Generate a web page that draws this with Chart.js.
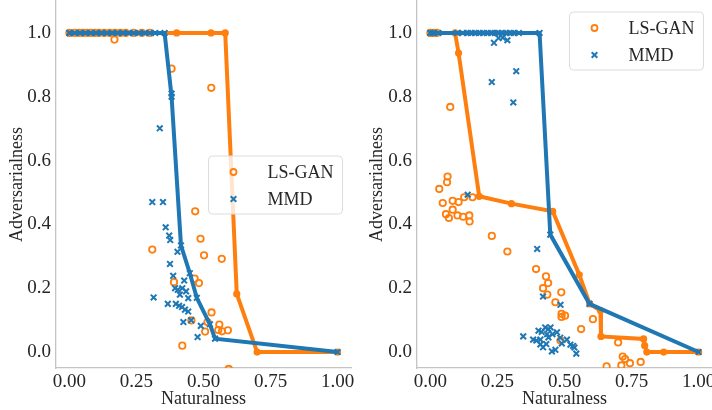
<!DOCTYPE html>
<html>
<head>
<meta charset="utf-8">
<script src="https://cdn.jsdelivr.net/npm/chart.js@4.4.1/dist/chart.umd.min.js"></script>
<style>
  html, body { margin: 0; padding: 0; background: #fff; }
  .wrap { display: flex; width: 712px; height: 410px; }
  canvas { display: block; }
</style>
</head>
<body>
<div class="wrap">
  <canvas id="left" width="360" height="410"></canvas>
  <canvas id="right" width="352" height="410"></canvas>
</div>
<script>
// series names and tick labels
const seriesNames = ['LS-GAN', 'MMD'];
const xTicks = [0, 0.25, 0.5, 0.75, 1.0];
const yTicks = [0, 0.2, 0.4, 0.6, 0.8, 1.0];

// ---- left panel ----
const leftGanX = [0, 0.02, 0.035, 0.05, 0.065, 0.08, 0.095, 0.11, 0.13, 0.15, 0.17, 0.19, 0.21, 0.24, 0.27, 0.3,
  0.168, 0.381, 0.529, 0.469, 0.489, 0.309, 0.502, 0.568, 0.390, 0.467, 0.483, 0.530, 0.455, 0.515, 0.506,
  0.559, 0.555, 0.569, 0.591, 0.421, 0.594];
const leftGanY = [1, 1, 1, 1, 1, 1, 1, 1, 1, 1, 1, 1, 1, 1, 1, 1,
  0.979, 0.888, 0.828, 0.441, 0.355, 0.321, 0.303, 0.292, 0.219, 0.230, 0.216, 0.124, 0.099, 0.094, 0.064,
  0.086, 0.069, 0.065, 0.068, 0.020, -0.053];
const leftGanLineX = [0, 0.40, 0.528, 0.581, 0.624, 0.70, 1.0];
const leftGanLineY = [1, 1, 1, 1, 0.182, 0, 0];

const leftMmdX = [0, 0.02, 0.04, 0.06, 0.08, 0.1, 0.12, 0.14, 0.16, 0.18, 0.2, 0.22, 0.24, 0.26, 0.28, 0.3, 0.32,
  0.381, 0.337, 0.309, 0.349, 0.359, 0.372, 0.376, 0.403, 0.375, 0.387, 0.314, 0.367, 0.397, 0.394, 0.404,
  0.421, 0.428, 0.435, 0.412, 0.409, 0.420, 0.431, 0.443, 0.443, 0.425, 0.478, 0.490, 0.454];
const leftMmdY = [1, 1, 1, 1, 1, 1, 1, 1, 1, 1, 1, 1, 1, 1, 1, 1, 1,
  0.810, 0.701, 0.470, 0.470, 0.391, 0.365, 0.351, 0.314, 0.276, 0.239, 0.171, 0.151, 0.151, 0.200, 0.195,
  0.200, 0.224, 0.190, 0.180, 0.145, 0.141, 0.133, 0.127, 0.169, 0.094, 0.047, 0.082, 0.100];
const leftMmdLineX = [0, 0.355, 0.381, 0.416, 0.449, 0.475, 0.524, 0.543, 1.0];
const leftMmdLineY = [1, 1, 0.80, 0.334, 0.247, 0.170, 0.087, 0.042, 0];

// ---- right panel ----
const rightGanX = [0, 0.012, 0.024,
  0.033, 0.046, 0.062, 0.064, 0.058, 0.069, 0.074, 0.083, 0.083, 0.101, 0.105, 0.122, 0.126, 0.145, 0.146, 0.157,
  0.229, 0.287, 0.394, 0.431, 0.439, 0.420, 0.436, 0.488, 0.466, 0.489, 0.489, 0.502, 0.562, 0.606, 0.485,
  0.700, 0.717, 0.726, 0.712, 0.744, 0.784, 0.657];
const rightGanY = [1, 1, 1,
  0.511, 0.467, 0.532, 0.550, 0.432, 0.420, 0.768, 0.474, 0.446, 0.428, 0.470, 0.424, 0.485, 0.428, 0.409, 0.485,
  0.364, 0.315, 0.260, 0.237, 0.216, 0.200, 0.180, 0.187, 0.156, 0.120, 0.110, 0.114, 0.072, 0.103, 0.036,
  0.030, -0.014, -0.022, -0.042, -0.035, -0.031, -0.045];
const rightGanLineX = [0, 0.092, 0.105, 0.182, 0.302, 0.456, 0.555, 0.594, 0.634, 0.636, 0.795, 0.799, 0.807, 0.870, 1.0];
const rightGanLineY = [1, 1, 0.937, 0.488, 0.465, 0.441, 0.242, 0.151, 0.130, 0.049, 0.041, 0.020, 0, 0, 0];

const rightMmdX = [0, 0.01, 0.03, 0.1, 0.12, 0.14, 0.15, 0.17, 0.18, 0.2, 0.21, 0.23, 0.24, 0.25, 0.27, 0.28, 0.3, 0.31, 0.33,
  0.237, 0.254, 0.287, 0.270, 0.229, 0.320, 0.309, 0.139, 0.398, 0.420, 0.485, 0.346,
  0.383, 0.395, 0.410, 0.403, 0.415, 0.410, 0.420, 0.435, 0.428, 0.440, 0.448, 0.455, 0.453, 0.466,
  0.472, 0.484, 0.490, 0.509, 0.522, 0.532, 0.537, 0.544, 0.440, 0.432];
const rightMmdY = [1, 1, 1, 1, 1, 1, 1, 1, 1, 1, 1, 1, 1, 1, 1, 1, 1, 1, 1,
  0.969, 0.984, 0.977, 0.985, 0.846, 0.880, 0.782, 0.493, 0.323, 0.174, 0.148, 0.049,
  0.039, 0.036, 0.039, 0.067, 0.063, 0.024, 0.015, 0.056, 0.077, 0.072, 0.077, 0.056, 0.002, 0.007,
  0.062, 0.045, 0.027, 0.039, 0.023, 0.019, 0.014, -0.005, 0.046, 0.025];
const rightMmdLineX = [0, 0.407, 0.447, 0.593, 1.0];
const rightMmdLineY = [1, 1, 0.368, 0.151, 0];

const ORANGE = '#ff7f0e';
const BLUE = '#1f77b4';
const FONT = "'Liberation Serif', 'DejaVu Serif', serif";
const TEXT = '#262626';

const zip = (xs, ys) => xs.map((x, i) => ({ x: x, y: ys[i] }));

// legend drawn inside the plot area like matplotlib's
const legendBox = {
  id: 'legendBox',
  afterDraw(chart, args, opts) {
    const ctx = chart.ctx;
    const x = opts.x, y = opts.y, w = 134, h = 58;
    ctx.save();
    ctx.beginPath();
    ctx.roundRect(x, y, w, h, 4);
    ctx.fillStyle = 'rgba(255,255,255,0.8)';
    ctx.fill();
    ctx.strokeStyle = '#dcdcdc';
    ctx.lineWidth = 1;
    ctx.stroke();

    const mx = x + 25;
    const r1 = y + 16, r2 = y + 43;
    // LS-GAN marker
    ctx.beginPath();
    ctx.arc(mx, r1, 3, 0, Math.PI * 2);
    ctx.strokeStyle = ORANGE;
    ctx.lineWidth = 1.8;
    ctx.stroke();
    // MMD marker
    const d = 2.8;
    ctx.beginPath();
    ctx.moveTo(mx - d, r2 - d); ctx.lineTo(mx + d, r2 + d);
    ctx.moveTo(mx - d, r2 + d); ctx.lineTo(mx + d, r2 - d);
    ctx.strokeStyle = BLUE;
    ctx.lineWidth = 2;
    ctx.stroke();

    ctx.fillStyle = TEXT;
    ctx.font = '18px ' + FONT;
    ctx.textBaseline = 'middle';
    ctx.fillText(seriesNames[0], x + 59, r1 + 1);
    ctx.fillText(seriesNames[1], x + 59, r2 + 1);
    ctx.restore();
  }
};

function makeChart(id, d, yWidth, padRight, legendPos) {
  const ctx = document.getElementById(id).getContext('2d');
  return new Chart(ctx, {
    type: 'scatter',
    data: {
      datasets: [
        {
          label: seriesNames[1] + ' front',
          data: zip(d.mmdLineX, d.mmdLineY),
          showLine: true,
          borderColor: BLUE,
          borderWidth: 4,
          pointStyle: 'crossRot',
          pointRadius: 4,
          pointBorderWidth: 2,
          pointBorderColor: BLUE,
          order: 0,
          clip: 0
        },
        {
          label: seriesNames[1],
          data: zip(d.mmdX, d.mmdY),
          pointStyle: 'crossRot',
          pointRadius: 4,
          borderWidth: 2,
          borderColor: BLUE,
          backgroundColor: BLUE,
          order: 1,
          clip: 0
        },
        {
          label: seriesNames[0] + ' front',
          data: zip(d.ganLineX, d.ganLineY),
          showLine: true,
          borderColor: ORANGE,
          borderWidth: 4,
          pointStyle: 'circle',
          pointRadius: 3.6,
          pointBorderWidth: 0,
          pointBackgroundColor: ORANGE,
          order: 2,
          clip: 0
        },
        {
          label: seriesNames[0],
          data: zip(d.ganX, d.ganY),
          pointStyle: 'circle',
          pointRadius: 3.2,
          borderWidth: 1.8,
          borderColor: ORANGE,
          backgroundColor: 'rgba(0,0,0,0)',
          order: 3,
          clip: 0
        }
      ]
    },
    options: {
      responsive: false,
      animation: false,
      layout: { autoPadding: false, padding: { top: 1, right: padRight, left: 0, bottom: 0 } },
      scales: {
        x: {
          type: 'linear',
          min: -0.05,
          max: 1.05,
          afterBuildTicks: s => { s.ticks = xTicks.map(v => ({ value: v })); },
          afterFit: s => { s.height = 42; s.paddingLeft = 0; s.paddingRight = 0; },
          grid: { display: false, drawTicks: false },
          border: { display: true, color: '#c4c4c4', width: 1.3 },
          ticks: {
            padding: 3,
            maxRotation: 0,
            autoSkip: false,
            color: TEXT,
            font: { family: FONT, size: 19 },
            callback: v => v.toFixed(2)
          },
          title: {
            display: true,
            text: 'Naturalness',
            color: TEXT,
            font: { family: FONT, size: 18 },
            padding: { top: 1, bottom: 0 }
          }
        },
        y: {
          type: 'linear',
          min: -0.05,
          max: 1.1,
          afterBuildTicks: s => { s.ticks = yTicks.map(v => ({ value: v })); },
          afterFit: s => { s.width = yWidth; s.paddingTop = 0; s.paddingBottom = 0; },
          grid: { display: false, drawTicks: false },
          border: { display: true, color: '#c4c4c4', width: 1.3 },
          ticks: {
            padding: 5,
            color: TEXT,
            font: { family: FONT, size: 19 },
            callback: v => v.toFixed(1)
          },
          title: {
            display: true,
            text: 'Adversarialness',
            color: TEXT,
            font: { family: FONT, size: 18 },
            padding: { top: 6, bottom: 0 }
          }
        }
      },
      plugins: {
        legend: { display: false },
        tooltip: { enabled: false },
        legendBox: legendPos
      }
    },
    plugins: [legendBox]
  });
}

makeChart('left', {
  ganX: leftGanX, ganY: leftGanY, ganLineX: leftGanLineX, ganLineY: leftGanLineY,
  mmdX: leftMmdX, mmdY: leftMmdY, mmdLineX: leftMmdLineX, mmdLineY: leftMmdLineY
}, 56, 9, { x: 208.5, y: 156 });

makeChart('right', {
  ganX: rightGanX, ganY: rightGanY, ganLineX: rightGanLineX, ganLineY: rightGanLineY,
  mmdX: rightMmdX, mmdY: rightMmdY, mmdLineX: rightMmdLineX, mmdLineY: rightMmdLineY
}, 57, 0, { x: 209.5, y: 12 });
</script>
</body>
</html>
